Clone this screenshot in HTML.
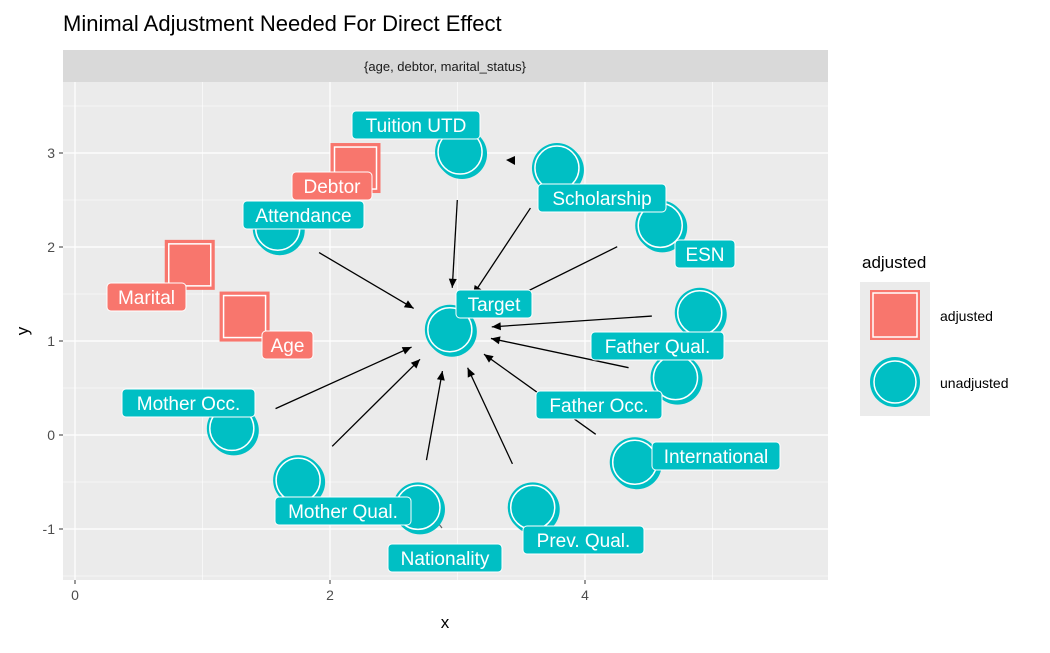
<!DOCTYPE html>
<html><head><meta charset="utf-8"><style>
body{margin:0;background:#fff;font-family:"Liberation Sans",Arial,sans-serif}
</style></head><body>
<svg width="1050" height="648" xmlns="http://www.w3.org/2000/svg" font-family="Liberation Sans, Arial, sans-serif">
<text x="63" y="31" font-size="22" fill="#000">Minimal Adjustment Needed For Direct Effect</text>
<rect x="63" y="50" width="765" height="32" fill="#d9d9d9"/>
<text x="445" y="71" font-size="13" text-anchor="middle" fill="#1a1a1a">{age, debtor, marital_status}</text>
<rect x="63" y="82" width="765" height="498" fill="#ebebeb"/>
<g id="grid"></g><g id="axes"></g><g id="edges"></g><g id="nodes"></g><g id="labels"></g>
<text x="445" y="628" font-size="17" text-anchor="middle">x</text>
<text x="0" y="0" font-size="17" text-anchor="middle" transform="translate(28,331) rotate(-90)">y</text>
<g>
<text x="862" y="268" font-size="17">adjusted</text>
<rect x="860" y="282" width="70" height="134" fill="#ebebeb"/>
<g>
<rect x="870" y="290" width="50" height="50" fill="#F8766D"/>
<rect x="873" y="293" width="44" height="44" fill="none" stroke="#fff" stroke-width="1.5"/>
<text x="940" y="321" font-size="14">adjusted</text></g>
<g>
<circle cx="895" cy="382" r="25" fill="#00BFC4"/><circle cx="895" cy="382" r="21" fill="none" stroke="#fff" stroke-width="1.5"/>
<text x="940" y="388" font-size="14">unadjusted</text></g>
</g>
</svg>
<script>
const nodeNames=["Target","Tuition UTD","Scholarship","ESN","Father Qual.","Father Occ.","International","Prev. Qual.","Nationality","Mother Qual.","Mother Occ.","Attendance","Debtor","Marital","Age"];
const nodeX=[2.94,3.02,3.78,4.59,4.9,4.71,4.39,3.59,2.69,1.75,1.23,1.59,2.2,0.9,1.33];
const nodeY=[1.12,3.01,2.84,2.23,1.3,0.61,-0.29,-0.77,-0.77,-0.48,0.07,2.2,2.84,1.81,1.26];
const nodeAdjusted=[0,0,0,0,0,0,0,0,0,0,0,0,1,1,1];
const edgeFrom=["Tuition UTD","Scholarship","ESN","Father Qual.","Father Occ.","International","Prev. Qual.","Nationality","Mother Qual.","Mother Occ.","Attendance"];
const edgeTo="Target";
const xTicks=[0,2,4], yTicks=[-1,0,1,2,3];
const X=v=>75+v*127.5, Y=v=>435-v*94;
const NS="http://www.w3.org/2000/svg";
function mk(t,a,p){const e=document.createElementNS(NS,t);for(const k in a)e.setAttribute(k,a[k]);p.appendChild(e);return e;}
const grid=document.getElementById('grid');
for(let v=0;v<=5;v+=1){const l=mk('line',{x1:X(v),x2:X(v),y1:82,y2:580,stroke:'#fff','stroke-width':v%2?0.6:1.2},grid);
}
for(let v=-1.5;v<=3.5;v+=0.5){const l=mk('line',{x1:63,x2:828,y1:Y(v),y2:Y(v),stroke:'#fff','stroke-width':Number.isInteger(v)?1.2:0.6},grid);
}
const ax=document.getElementById('axes');
xTicks.forEach(v=>{mk('line',{x1:X(v),x2:X(v),y1:580,y2:584,stroke:'#333'},ax);const t=mk('text',{x:X(v),y:600,'font-size':14,'text-anchor':'middle',fill:'#4d4d4d'},ax);t.textContent=v;
});
yTicks.forEach(v=>{mk('line',{x1:59,x2:63,y1:Y(v),y2:Y(v),stroke:'#333'},ax);const t=mk('text',{x:55,y:Y(v)+5,'font-size':14,'text-anchor':'end',fill:'#4d4d4d'},ax);t.textContent=v;
});
const eg=document.getElementById('edges');
const ti=nodeNames.indexOf(edgeTo);
edgeFrom.forEach(n=>{const i=nodeNames.indexOf(n);const x1=X(nodeX[i]),y1=Y(nodeY[i]),x2=X(nodeX[ti]),y2=Y(nodeY[ti]);
const dx=x2-x1,dy=y2-y1,L=Math.hypot(dx,dy),ux=dx/L,uy=dy/L;
const sx=x1+ux*48,sy=y1+uy*48,ex=x2-ux*42,ey=y2-uy*42;
const l=mk('line',{x1:sx,y1:sy,x2:ex,y2:ey,stroke:'#000','stroke-width':1.3},eg);

const px=-uy,py=ux;
const h=mk('polygon',{points:`${ex},${ey} ${ex-ux*9+px*4},${ey-uy*9+py*4} ${ex-ux*9-px*4},${ey-uy*9-py*4}`,fill:'#000'},eg);
});
{const h=mk('polygon',{points:'506,160 515,156 515,165',fill:'#000'},eg);}
mk('line',{x1:428,y1:510,x2:442,y2:528,stroke:'#666','stroke-width':1.2},eg);
const ng=document.getElementById('nodes');
nodeNames.forEach((n,i)=>{const cx=X(nodeX[i]),cy=Y(nodeY[i]);const g=mk('g',{},ng);

if(nodeAdjusted[i]){mk('rect',{x:cx-25,y:cy-25,width:50,height:50,fill:'#F8766D'},g);mk('rect',{x:cx-21,y:cy-21,width:42,height:42,fill:'none',stroke:'#fff','stroke-width':1.5},g);}
else{mk('circle',{cx:cx+2,cy:cy+2,r:25,fill:'#00BFC4'},g);mk('circle',{cx:cx,cy:cy,r:25,fill:'#00BFC4'},g);mk('circle',{cx:cx,cy:cy,r:22,fill:'none',stroke:'#fff','stroke-width':1.5},g);}});
const boxes={"Tuition UTD":[352,111,128],"Debtor":[292,172,80],"Attendance":[243,201,121],"Scholarship":[538,184,128],"ESN":[675,240,60],"Marital":[107,283,79],"Target":[456,290,76],"Age":[262,331,51],"Father Qual.":[591,332,133],"Mother Occ.":[122,389,133],"Father Occ.":[536,391,126],"International":[652,442,128],"Mother Qual.":[275,497,136],"Prev. Qual.":[523,526,121],"Nationality":[388,544,114]};
const lg=document.getElementById('labels');
nodeNames.forEach((n,i)=>{const b=boxes[n];const g=mk('g',{},lg);

mk('rect',{x:b[0],y:b[1],width:b[2],height:28,rx:4,fill:nodeAdjusted[i]?'#F8766D':'#00BFC4',stroke:'#fff','stroke-width':1},g);
const t=mk('text',{x:b[0]+b[2]/2,y:b[1]+21,'font-size':19,'text-anchor':'middle',fill:'#fff'},g);t.textContent=n;});
</script>
</body></html>
